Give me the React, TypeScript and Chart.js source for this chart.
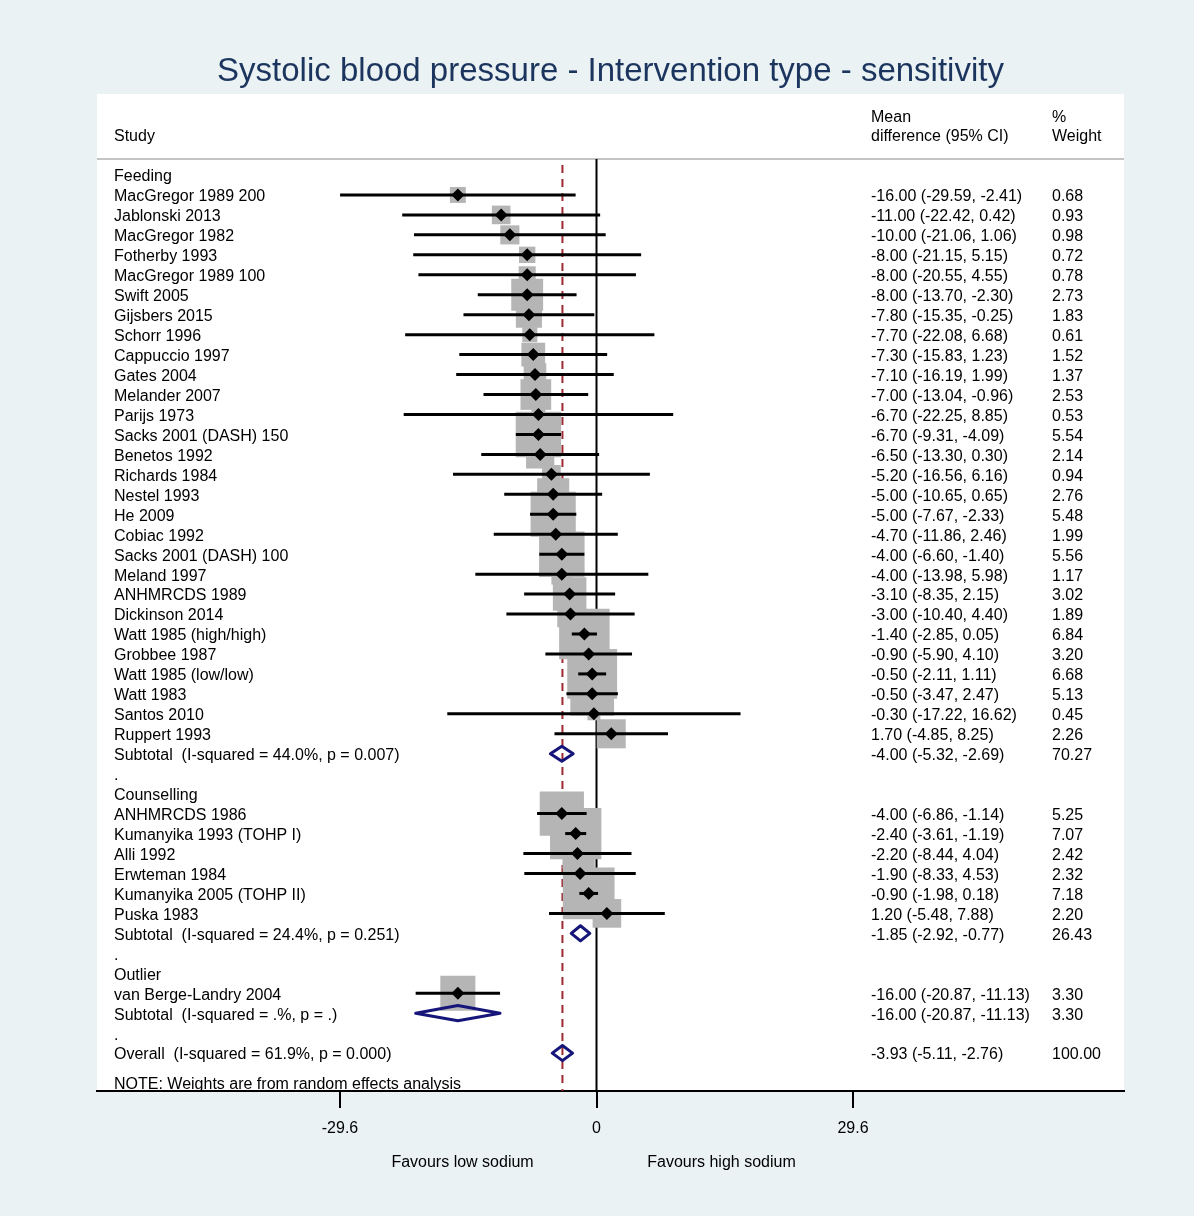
import React, { useEffect, useRef } from 'react';
import { Chart, registerables } from 'chart.js';

Chart.register(...registerables);

const TITLE = 'Systolic blood pressure - Intervention type - sensitivity';
const GROUPS = ['Feeding', 'Counselling', 'Outlier'];

const FEEDING_STUDIES = [
  'MacGregor 1989 200', 'Jablonski 2013', 'MacGregor 1982', 'Fotherby 1993', 'MacGregor 1989 100',
  'Swift 2005', 'Gijsbers 2015', 'Schorr 1996', 'Cappuccio 1997', 'Gates 2004', 'Melander 2007',
  'Parijs 1973', 'Sacks 2001 (DASH) 150', 'Benetos 1992', 'Richards 1984', 'Nestel 1993', 'He 2009',
  'Cobiac 1992', 'Sacks 2001 (DASH) 100', 'Meland 1997', 'ANHMRCDS 1989', 'Dickinson 2014',
  'Watt 1985 (high/high)', 'Grobbee 1987', 'Watt 1985 (low/low)', 'Watt 1983', 'Santos 2010', 'Ruppert 1993',
];
const FEEDING_MD = [-16.0, -11.0, -10.0, -8.0, -8.0, -8.0, -7.8, -7.7, -7.3, -7.1, -7.0, -6.7, -6.7, -6.5, -5.2, -5.0, -5.0, -4.7, -4.0, -4.0, -3.1, -3.0, -1.4, -0.9, -0.5, -0.5, -0.3, 1.7];
const FEEDING_LO = [-29.59, -22.42, -21.06, -21.15, -20.55, -13.7, -15.35, -22.08, -15.83, -16.19, -13.04, -22.25, -9.31, -13.3, -16.56, -10.65, -7.67, -11.86, -6.6, -13.98, -8.35, -10.4, -2.85, -5.9, -2.11, -3.47, -17.22, -4.85];
const FEEDING_HI = [-2.41, 0.42, 1.06, 5.15, 4.55, -2.3, -0.25, 6.68, 1.23, 1.99, -0.96, 8.85, -4.09, 0.3, 6.16, 0.65, -2.33, 2.46, -1.4, 5.98, 2.15, 4.4, 0.05, 4.1, 1.11, 2.47, 16.62, 8.25];
const FEEDING_WT = [0.68, 0.93, 0.98, 0.72, 0.78, 2.73, 1.83, 0.61, 1.52, 1.37, 2.53, 0.53, 5.54, 2.14, 0.94, 2.76, 5.48, 1.99, 5.56, 1.17, 3.02, 1.89, 6.84, 3.2, 6.68, 5.13, 0.45, 2.26];

const COUNSELLING_STUDIES = ['ANHMRCDS 1986', 'Kumanyika 1993 (TOHP I)', 'Alli 1992', 'Erwteman 1984', 'Kumanyika 2005 (TOHP II)', 'Puska 1983'];
const COUNSELLING_MD = [-4.0, -2.4, -2.2, -1.9, -0.9, 1.2];
const COUNSELLING_LO = [-6.86, -3.61, -8.44, -8.33, -1.98, -5.48];
const COUNSELLING_HI = [-1.14, -1.19, 4.04, 4.53, 0.18, 7.88];
const COUNSELLING_WT = [5.25, 7.07, 2.42, 2.32, 7.18, 2.2];

const OUTLIER_STUDIES = ['van Berge-Landry 2004'];
const OUTLIER_MD = [-16.0];
const OUTLIER_LO = [-20.87];
const OUTLIER_HI = [-11.13];
const OUTLIER_WT = [3.3];

const SUBTOTAL_LABELS = [
  'Subtotal  (I-squared = 44.0%, p = 0.007)',
  'Subtotal  (I-squared = 24.4%, p = 0.251)',
  'Subtotal  (I-squared = .%, p = .)',
];
const SUBTOTAL_MD = [-4.0, -1.85, -16.0];
const SUBTOTAL_LO = [-5.32, -2.92, -20.87];
const SUBTOTAL_HI = [-2.69, -0.77, -11.13];
const SUBTOTAL_WT = [70.27, 26.43, 3.3];

const OVERALL_LABEL = 'Overall  (I-squared = 61.9%, p = 0.000)';
const OVERALL_MD = -3.93;
const OVERALL_LO = -5.11;
const OVERALL_HI = -2.76;
const OVERALL_WT = 100.0;

const X_TICKS = [-29.6, 0, 29.6];
const X_SIDE_LABELS = ['Favours low sodium', 'Favours high sodium'];
const NOTE = 'NOTE: Weights are from random effects analysis';
const HEADER_STUDY = 'Study';
const HEADER_MD = ['Mean', 'difference (95% CI)'];
const HEADER_WT = ['%', 'Weight'];

type Row = {
  row: number;
  kind: 'group' | 'study' | 'sub' | 'dot' | 'overall';
  label: string;
  md?: number;
  lo?: number;
  hi?: number;
  wt?: number;
};

function buildRows(): Row[] {
  const groups = [
    [FEEDING_STUDIES, FEEDING_MD, FEEDING_LO, FEEDING_HI, FEEDING_WT],
    [COUNSELLING_STUDIES, COUNSELLING_MD, COUNSELLING_LO, COUNSELLING_HI, COUNSELLING_WT],
    [OUTLIER_STUDIES, OUTLIER_MD, OUTLIER_LO, OUTLIER_HI, OUTLIER_WT],
  ] as [string[], number[], number[], number[], number[]][];
  const rows: Row[] = [];
  let r = 0;
  groups.forEach((g, gi) => {
    rows.push({ row: r++, kind: 'group', label: GROUPS[gi] });
    g[0].forEach((name, i) => {
      rows.push({ row: r++, kind: 'study', label: name, md: g[1][i], lo: g[2][i], hi: g[3][i], wt: g[4][i] });
    });
    rows.push({ row: r++, kind: 'sub', label: SUBTOTAL_LABELS[gi], md: SUBTOTAL_MD[gi], lo: SUBTOTAL_LO[gi], hi: SUBTOTAL_HI[gi], wt: SUBTOTAL_WT[gi] });
    rows.push({ row: r++, kind: 'dot', label: '.' });
  });
  rows.push({ row: r++, kind: 'overall', label: OVERALL_LABEL, md: OVERALL_MD, lo: OVERALL_LO, hi: OVERALL_HI, wt: OVERALL_WT });
  return rows;
}

const FONT = '"Liberation Sans", Arial, Helvetica, sans-serif';
const Y_MIN = -4.059;
const Y_MAX = 45.9;
const SEP_ROW = -0.8;
const NOTE_ROW = 45.5;
const BOX_K = 19.3;
const DIAMOND_H = 0.38;
const TEXT_DY = 2;

const fmt = (v: number) => v.toFixed(2);

export default function App() {
  const ref = useRef<HTMLCanvasElement | null>(null);

  useEffect(() => {
    const canvas = ref.current;
    if (!canvas) return;
    const rows = buildRows();
    const studies = rows.filter((r) => r.kind === 'study');
    const summaries = rows.filter((r) => r.kind === 'sub' || r.kind === 'overall');

    const datasets: any[] = [];
    datasets.push({
      label: 'zero',
      data: [{ x: 0, y: SEP_ROW }, { x: 0, y: Y_MAX }],
      showLine: true, borderColor: '#000', borderWidth: 2, pointRadius: 0, order: 10,
    });
    datasets.push({
      label: 'overall',
      data: [{ x: OVERALL_MD, y: SEP_ROW + 0.3 }, { x: OVERALL_MD, y: Y_MAX }],
      showLine: true, borderColor: '#9c2b33', borderWidth: 2, borderDash: [8, 6], pointRadius: 0, order: 9,
    });
    datasets.push({
      label: 'boxes',
      data: studies.map((s) => ({ x: s.md, y: s.row })),
      pointStyle: 'rect',
      pointRadius: studies.map((s) => (BOX_K * Math.sqrt(s.wt as number)) / Math.SQRT2),
      backgroundColor: '#b5b5b5', borderWidth: 0, showLine: false, order: 8,
    });
    studies.forEach((s) => {
      datasets.push({
        label: 'ci ' + s.label,
        data: [{ x: s.lo, y: s.row }, { x: s.hi, y: s.row }],
        showLine: true, borderColor: '#000', borderWidth: 3, pointRadius: 0, borderCapStyle: 'butt', order: 6,
      });
    });
    datasets.push({
      label: 'markers',
      data: studies.map((s) => ({ x: s.md, y: s.row })),
      pointStyle: 'rectRot', pointRadius: 6.5, backgroundColor: '#000', borderWidth: 0, showLine: false, order: 4,
    });
    summaries.forEach((s) => {
      datasets.push({
        label: 'diamond ' + s.label,
        data: [
          { x: s.lo, y: s.row }, { x: s.md, y: s.row - DIAMOND_H }, { x: s.hi, y: s.row },
          { x: s.md, y: s.row + DIAMOND_H }, { x: s.lo, y: s.row }, { x: s.md, y: s.row - DIAMOND_H },
        ],
        showLine: true, borderColor: '#16167a', borderWidth: 3, borderJoinStyle: 'round', pointRadius: 0, order: 3,
      });
    });

    const textPlugin = {
      id: 'forestText',
      beforeDraw(chart: any) {
        const { ctx, chartArea: a } = chart;
        ctx.save();
        ctx.fillStyle = '#eaf2f3';
        ctx.fillRect(0, 0, chart.width, chart.height);
        ctx.fillStyle = '#ffffff';
        ctx.fillRect(a.left, a.top, a.right - a.left, a.bottom - a.top);
        ctx.restore();
      },
      beforeDatasetsDraw(chart: any) {
        const { ctx, chartArea: a, scales } = chart;
        const y = scales.y.getPixelForValue(SEP_ROW);
        ctx.save();
        ctx.strokeStyle = '#c4c4c4';
        ctx.lineWidth = 2;
        ctx.beginPath();
        ctx.moveTo(a.left, y);
        ctx.lineTo(a.right, y);
        ctx.stroke();
        ctx.restore();
      },
      afterDraw(chart: any) {
        const { ctx, chartArea: a, scales } = chart;
        const ys = scales.y;
        const xs = scales.x;
        const xLab = a.left + 17;
        const xMd = 871;
        const xWt = 1052;
        const py = (v: number) => ys.getPixelForValue(v) + TEXT_DY;
        ctx.save();
        ctx.fillStyle = '#000';
        ctx.font = `16px ${FONT}`;
        ctx.textBaseline = 'middle';
        ctx.textAlign = 'left';
        ctx.fillText(HEADER_STUDY, xLab, py(-2));
        ctx.fillText(HEADER_MD[0], xMd, py(-3));
        ctx.fillText(HEADER_MD[1], xMd, py(-2));
        ctx.fillText(HEADER_WT[0], xWt, py(-3));
        ctx.fillText(HEADER_WT[1], xWt, py(-2));
        rows.forEach((r) => {
          const y = py(r.row);
          ctx.fillText(r.label, xLab, y);
          if (r.md !== undefined) {
            ctx.fillText(`${fmt(r.md)} (${fmt(r.lo as number)}, ${fmt(r.hi as number)})`, xMd, y);
            ctx.fillText(fmt(r.wt as number), xWt, y);
          }
        });
        ctx.fillText(NOTE, xLab, py(NOTE_ROW));
        ctx.textAlign = 'center';
        const yb = a.bottom + 72;
        ctx.fillText(X_SIDE_LABELS[0], xs.getPixelForValue(-15.46), yb);
        ctx.fillText(X_SIDE_LABELS[1], xs.getPixelForValue(14.42), yb);
        ctx.restore();
      },
    };

    const chart = new Chart(canvas, {
      type: 'scatter',
      data: { datasets },
      options: {
        animation: false,
        responsive: false,
        devicePixelRatio: 1,
        events: [],
        layout: { padding: { left: 97, right: 70, top: 0, bottom: 80 } },
        plugins: {
          legend: { display: false },
          tooltip: { enabled: false },
          title: {
            display: true,
            text: TITLE,
            color: '#1c355e',
            font: { family: FONT, size: 33, weight: 'normal', lineHeight: 1.2 },
            padding: { top: 52, bottom: 2.4 },
          },
        },
        scales: {
          x: {
            type: 'linear',
            min: -57.64,
            max: 60.87,
            afterBuildTicks: (s: any) => {
              s.ticks = X_TICKS.map((v) => ({ value: v }));
            },
            afterFit: (s: any) => {
              s.height = 45;
            },
            ticks: {
              color: '#000',
              font: { family: FONT, size: 16 },
              padding: 11,
              autoSkip: false,
              maxRotation: 0,
              callback: (v: any) => String(v),
            },
            grid: { display: true, drawOnChartArea: false, drawTicks: true, tickLength: 17, color: '#000', lineWidth: 2 },
            border: { display: true, color: '#000', width: 2 },
          },
          y: {
            type: 'linear',
            display: false,
            reverse: true,
            min: Y_MIN,
            max: Y_MAX,
          },
        },
      },
      plugins: [textPlugin],
    } as any);
    return () => chart.destroy();
  }, []);

  return (
    <div style={{ position: 'fixed', left: 0, top: 0, width: 1194, height: 1216, background: '#eaf2f3', overflow: 'hidden' }}>
      <canvas ref={ref} width={1194} height={1216} style={{ display: 'block', width: 1194, height: 1216 }} />
    </div>
  );
}
